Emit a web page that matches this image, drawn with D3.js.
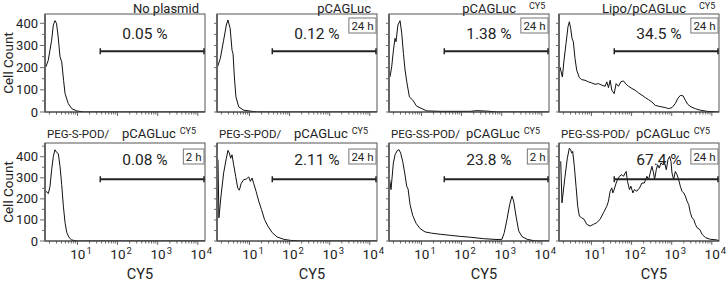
<!DOCTYPE html>
<html>
<head>
<meta charset="utf-8">
<script src="https://cdn.jsdelivr.net/npm/d3@7"></script>
<style>
  body { margin: 0; background: #fff; }
  svg { display: block; font-family: Roboto, "Open Sans", sans-serif; }
</style>
</head>
<body>
<div id="chart"></div>
<script>
// panel texts, left to right, top row then bottom row
const titles = ["No plasmid", "pCAGLuc", "pCAGLuc", "Lipo/pCAGLuc", "pCAGLuc", "pCAGLuc", "pCAGLuc", "pCAGLuc"];
const carriers = [null, null, null, null, "PEG-S-POD/", "PEG-S-POD/", "PEG-SS-POD/", "PEG-SS-POD/"];
const channelTag = [false, false, true, true, true, true, true, true];
const percents = ["0.05 %", "0.12 %", "1.38 %", "34.5 %", "0.08 %", "2.11 %", "23.8 %", "67.4 %"];
const times = [null, "24 h", "24 h", "24 h", "2 h", "24 h", "2 h", "24 h"];

const yTicks = [0, 100, 200, 300, 400];
const xTickExp = [1, 2, 3, 4];
const rowMax = [442, 465];
const gateStart = 37;
const gateLevel = [274, 293];

// histograms: [CY5, cell count]
const hist1 = [[1.64,204],[1.87,234],[2.27,324],[2.5,392],[2.75,412],[3.0,400],[3.3,339],[3.67,249],[4.05,226],[4.5,143],[4.9,83],[5.9,38],[7.2,15],[9.6,5],[14,0],[15000,0]];
const hist2 = [[1.6,204],[1.87,241],[2.27,324],[2.65,392],[2.9,415],[3.3,377],[3.67,279],[3.9,262],[4.2,158],[4.6,68],[5.4,23],[7.2,8],[11.6,3],[16,0],[15000,0]];
const hist3 = [[1.64,158],[1.81,204],[2.0,279],[2.19,332],[2.32,317],[2.58,392],[2.92,412],[3.22,355],[3.55,264],[3.9,189],[4.3,136],[5.0,68],[6.1,53],[7.6,26],[10.3,15],[13.5,5],[29,3],[164,3],[240,6],[427,4],[760,0],[15000,0]];
const hist4 = [[1.64,203],[1.88,158],[2.07,234],[2.32,309],[2.6,385],[2.81,407],[3.03,377],[3.27,332],[3.53,317],[3.89,241],[4.28,189],[4.99,155],[5.71,146],[6.92,143],[8.4,136],[10.2,131],[12.3,125],[14.9,128],[18.1,121],[21.9,116],[24.1,136],[26.5,110],[29.2,143],[32.1,98],[36.7,83],[41.2,128],[47.1,116],[54,136],[62.8,140],[73.3,125],[83.8,116],[102,106],[123,98],[149,86],[181,76],[219,65],[265,56],[321,45],[389,30],[471,26],[571,23],[692,20],[838,15],[1016,20],[1230,38],[1406,60],[1640,75],[1915,73],[2190,53],[2500,35],[3030,23],[3890,15],[5190,8],[7620,3],[13550,0],[15000,0]];
const hist5 = [[1.64,236],[1.88,225],[2.07,260],[2.27,338],[2.5,401],[2.75,433],[3.03,420],[3.33,414],[3.67,354],[4.04,268],[4.45,165],[4.9,87],[5.4,40],[6.2,16],[7.2,5],[9.6,0],[15000,0]];
const hist6 = [[1.64,386],[1.73,110],[1.95,213],[2.27,323],[2.65,393],[2.91,430],[3.15,417],[3.4,393],[3.67,409],[4.03,362],[4.53,307],[5.08,252],[5.6,241],[6.17,272],[7.18,291],[8.37,294],[9.58,304],[10.5,283],[11.6,299],[12.8,272],[14.6,236],[17,189],[19.9,150],[23.6,103],[28.6,71],[36.7,40],[49,19],[71.8,8],[105,3],[186,0],[15000,0]];
const hist7 = [[1.61,291],[1.74,244],[1.99,370],[2.19,409],[2.5,430],[2.75,433],[3.03,417],[3.4,378],[3.82,323],[4.28,260],[4.63,247],[5.19,173],[6.05,121],[7.33,84],[9.23,59],[12.3,43],[18.1,37],[29.2,32],[51.9,27],[92,22],[164,18],[353,11],[762,7],[1016,8],[1161,40],[1355,103],[1580,173],[1806,213],[1987,189],[2275,118],[2650,48],[3210,21],[4290,8],[6900,0],[15000,0]];
const hist8 = [[1.71,378],[1.84,181],[2.19,307],[2.5,393],[2.81,441],[3.03,433],[3.21,417],[3.4,425],[3.74,354],[4.12,260],[4.54,165],[4.99,118],[5.71,110],[6.53,103],[7.62,79],[9.23,71],[11.2,79],[13.5,87],[16.4,103],[19.9,134],[24.1,165],[26.5,189],[29.2,236],[32.1,252],[34,228],[36.7,244],[41.2,275],[44.5,291],[49.9,307],[57.1,315],[62.8,307],[69.2,323],[73.3,330],[79.1,283],[88.7,244],[95.9,260],[108,228],[118,244],[135,236],[158,252],[181,275],[207,275],[241,307],[265,291],[292,323],[321,354],[353,323],[374,291],[412,338],[445,362],[490,346],[540,370],[593,362],[653,378],[733,338],[807,386],[887,401],[959,378],[1016,323],[1117,291],[1230,330],[1355,315],[1489,291],[1640,260],[1806,236],[1987,228],[2190,213],[2410,189],[2650,173],[2920,134],[3210,110],[3530,103],[3890,79],[4290,63],[4990,55],[5710,32],[6920,16],[9230,8],[13550,5],[15000,0]];
const histograms = [hist1, hist2, hist3, hist4, hist5, hist6, hist7, hist8];

// layout
const W = 726, H = 284;
const colLeft = [45, 217, 389, 559];
const rowTop = [14, 143];
const pw = 160, ph = 98;

const svg = d3.select("#chart").append("svg")
  .attr("width", W)
  .attr("height", H);

const x = d3.scaleLog().domain([1.55, 15100]).range([0, pw]);
const minorX = [];
for (let e = 0; e <= 4; e++) {
  for (let m = 1; m <= 9; m++) {
    const v = m * Math.pow(10, e);
    if (v >= 1.55 && v <= 15100) minorX.push(v);
  }
}

histograms.forEach((data, i) => {
  const row = Math.floor(i / 4), col = i % 4;
  const y = d3.scaleLinear().domain([0, rowMax[row]]).range([ph, 0]);
  const g = svg.append("g")
    .attr("transform", `translate(${colLeft[col]},${rowTop[row]})`);

  // frame
  g.append("rect")
    .attr("width", pw).attr("height", ph)
    .attr("fill", "none").attr("stroke", "#555").attr("stroke-width", 1);

  // curve
  const clipId = "clip" + i;
  g.append("clipPath").attr("id", clipId)
    .append("rect").attr("width", pw).attr("height", ph);
  g.append("path")
    .datum(data)
    .attr("clip-path", `url(#${clipId})`)
    .attr("fill", "none")
    .attr("stroke", "#111")
    .attr("stroke-width", 1)
    .attr("stroke-linejoin", "round")
    .attr("d", d3.line().x(d => x(d[0])).y(d => y(d[1])));

  // x ticks
  g.selectAll(".xt").data(minorX).enter().append("line")
    .attr("x1", d => x(d)).attr("x2", d => x(d))
    .attr("y1", ph).attr("y2", d => ph + (Math.log10(d) % 1 === 0 ? 4 : 2.5))
    .attr("stroke", "#444").attr("stroke-width", 0.8);

  // y ticks
  const yt = d3.range(0, rowMax[row], 50);
  g.selectAll(".yt").data(yt).enter().append("line")
    .attr("x1", d => d % 100 === 0 && col === 0 ? -5 : -3).attr("x2", 0)
    .attr("y1", d => y(d)).attr("y2", d => y(d))
    .attr("stroke", "#444").attr("stroke-width", 0.8);

  // axes lines
  g.append("line").attr("x1", 0).attr("x2", 0).attr("y1", 0).attr("y2", ph)
    .attr("stroke", "#666").attr("stroke-width", 2);
  g.append("line").attr("x1", 0).attr("x2", pw).attr("y1", ph).attr("y2", ph)
    .attr("stroke", "#444").attr("stroke-width", 1.2);

  if (col === 0) {
    g.selectAll(".yl").data(yTicks).enter().append("text")
      .attr("x", -7).attr("y", d => y(d) + 4.5)
      .attr("text-anchor", "end")
      .style("font-size", "13px").attr("fill", "#222")
      .text(d => d);
    g.append("text")
      .attr("transform", `translate(${-32},${ph / 2}) rotate(-90)`)
      .attr("text-anchor", "middle")
      .style("font-size", "13.5px").attr("fill", "#222")
      .text("Cell Count");
  }

  if (row === 1) {
    const lab = g.selectAll(".xl").data(xTickExp).enter().append("text")
      .attr("x", d => x(Math.pow(10, d)) + 3.5).attr("y", ph + 18)
      .attr("text-anchor", "middle")
      .style("font-size", "13.5px").attr("fill", "#222");
    lab.append("tspan").text("10");
    lab.append("tspan").attr("dy", -5).attr("dx", 1).style("font-size", "9.5px").text(d => d);
    g.append("text")
      .attr("x", 95).attr("y", ph + 38)
      .attr("text-anchor", "middle")
      .style("font-size", "14.5px").attr("fill", "#222")
      .text("CY5");
  }

  // gate
  const gy = y(gateLevel[row]);
  const gx1 = x(gateStart), gx2 = pw - 1;
  g.append("line").attr("x1", gx1).attr("x2", gx2).attr("y1", gy).attr("y2", gy)
    .attr("stroke", "#222").attr("stroke-width", 2);
  [gx1, gx2].forEach(px => {
    g.append("line").attr("x1", px).attr("x2", px).attr("y1", gy - 3).attr("y2", gy + 3)
      .attr("stroke", "#222").attr("stroke-width", 1.5);
  });

  // percent
  g.append("text")
    .attr("x", 100).attr("y", row === 0 ? 25 : 22)
    .attr("text-anchor", "middle")
    .style("font-size", "15.5px").attr("fill", "#222")
    .text(percents[i]);

  // time box
  if (times[i]) {
    const t = g.append("text")
      .attr("y", row === 0 ? 16 : 18)
      .attr("text-anchor", "end")
      .style("font-size", "11.5px").attr("fill", "#222")
      .text(times[i]);
    const tw = t.node().getComputedTextLength();
    t.attr("x", pw - 3.5);
    g.append("rect")
      .attr("x", pw - 1 - tw - 5).attr("y", row === 0 ? 4 : 6)
      .attr("width", tw + 5).attr("height", 15)
      .attr("fill", "#fff").attr("stroke", "#777").attr("stroke-width", 1);
    t.raise();
  }

  // titles
  if (row === 0) {
    g.append("text")
      .attr("x", channelTag[i] ? 127 : 154).attr("y", -1.5)
      .attr("text-anchor", "end")
      .style("font-size", "13px").attr("fill", "#222")
      .text(titles[i]);
    if (channelTag[i]) {
      g.append("text").attr("x", 140).attr("y", -5)
        .style("font-size", "9px").attr("fill", "#222").text("CY5");
    }
  } else {
    g.append("text").attr("x", 2).attr("y", -5)
      .style("font-size", "11.5px").attr("fill", "#222").text(carriers[i]);
    const tt = g.append("text").attr("x", 77).attr("y", -5)
      .style("font-size", "13px").attr("fill", "#222").text(titles[i]);
    const tl = tt.node().getComputedTextLength();
    g.append("text").attr("x", 77 + tl + 4).attr("y", -9)
      .style("font-size", "9px").attr("fill", "#222").text("CY5");
  }
});
</script>
</body>
</html>
